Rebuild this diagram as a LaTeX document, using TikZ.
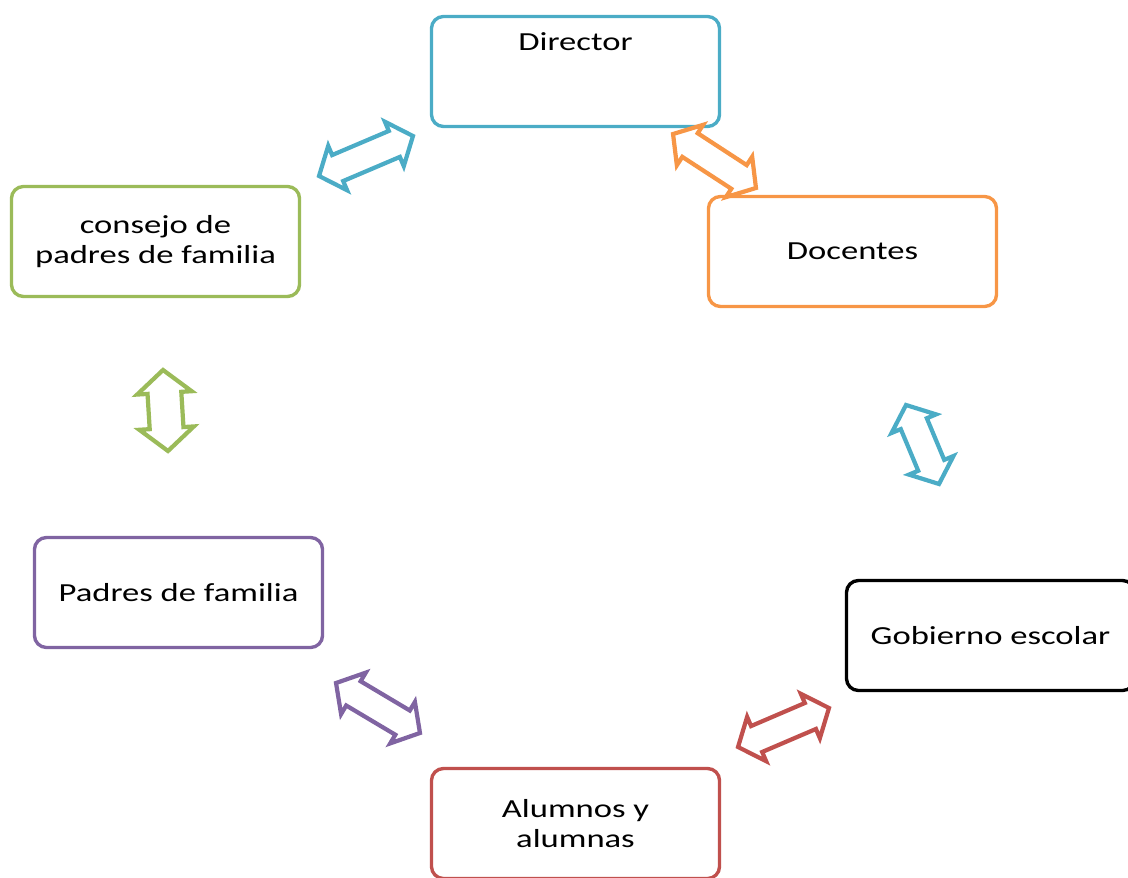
\documentclass[tikz,border=0pt]{standalone}
\usepackage{fontspec}
\setmainfont{Carlito}[FakeStretch=1.33]
\usetikzlibrary{positioning,calc,shapes.arrows}

\definecolor{dirteal}{HTML}{4BACC6}
\definecolor{docorange}{HTML}{F79646}
\definecolor{padgreen}{HTML}{9BBB59}
\definecolor{padpurple}{HTML}{8064A2}
\definecolor{alured}{HTML}{C0504D}

\tikzset{
	boxtext/.style={font=\fontsize{18.5}{21.3}\selectfont, align=center},
	box/.style={draw, line width=2.4pt, rounded corners=0.3cm, minimum width=7.2cm, minimum height=2.75cm, boxtext},
	link/.style={double arrow, draw, line width=3pt, inner xsep=0pt, inner ysep=0.3cm, double arrow head extend=0.25cm, double arrow tip angle=100}
}

% double block arrow between two named coordinates
\newcommand{\linkarrow}[3][]{%
	\path let \p1=($(#3)-(#2)$), \n1={veclen(\x1,\y1)} in
		(#2) -- (#3) node[midway, sloped, link, minimum height=\n1, #1] {};}

\begin{document}
\begin{tikzpicture}[x=0.025cm, y=-0.025cm]
	\useasboundingbox (0,0) rectangle (1128,878);

	% Boxes:
	\node[box, draw=dirteal] (director) at (575.5, 71.5) {};
	\node[boxtext, inner sep=0pt, below=0.44cm of director.north] (dirlabel) {Director};
	\node[box, draw=docorange] (docentes) at (852.5, 251.5) {Docentes};
	\node[box, draw=padgreen] (consejo) at (155.5, 241.5) {consejo de\\padres de familia};
	\node[box, draw=padpurple] (padres) at (178.5, 592.5) {Padres de familia};
	\node[box, draw=black] (gobierno) at (990.5, 635.5) {Gobierno escolar};
	\node[box, draw=alured] (alumnos) at (575.5, 823.5) {Alumnos y\\alumnas};

	% Arrow ends:
	\coordinate (c1) at (319, 176);
	\coordinate (d1) at (413, 136);
	\coordinate (c2) at (673, 134);
	\coordinate (d2) at (756, 188);
	\coordinate (c3) at (163, 370);
	\coordinate (d3) at (168, 451);
	\coordinate (c4) at (906, 405);
	\coordinate (d4) at (939, 484);
	\coordinate (c5) at (336, 683);
	\coordinate (d5) at (420, 733);
	\coordinate (c6) at (738, 747);
	\coordinate (d6) at (829, 708);

	% Arrows:
	\linkarrow[draw=dirteal]{c1}{d1}
	\linkarrow[draw=docorange]{c2}{d2}
	\linkarrow[draw=padgreen, inner ysep=0.37cm, double arrow head extend=0.26cm]{c3}{d3}
	\linkarrow[draw=dirteal]{c4}{d4}
	\linkarrow[draw=padpurple]{c5}{d5}
	\linkarrow[draw=alured]{c6}{d6}

\end{tikzpicture}
\end{document}
